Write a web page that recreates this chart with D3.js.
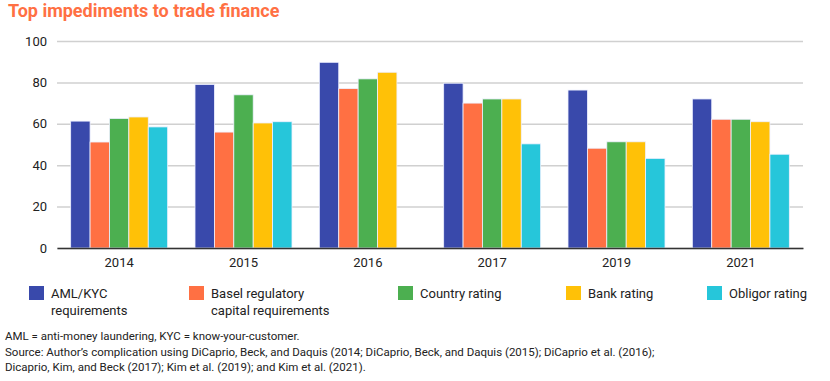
<!DOCTYPE html>
<html><head><meta charset="utf-8">
<script src="https://cdn.jsdelivr.net/npm/d3@7"></script>
<style>body{margin:0;background:#fff;} text{font-family:Roboto, "Noto Sans", sans-serif;}</style>
</head><body>
<svg id="c" width="830" height="381"></svg>
<script>
const categories = ["2014","2015","2016","2017","2019","2021"];
const seriesNames = ["AML/KYC requirements","Basel regulatory capital requirements","Country rating","Bank rating","Obligor rating"];
const amlKyc   = [61.3, 79, 89.7, 79.6, 76.3, 72];
const basel    = [51.2, 56, 77, 70, 48.2, 62.2];
const country  = [62.6, 74, 81.7, 72, 51.3, 62.2];
const bank     = [63.3, 60.4, 84.9, 72, 51.3, 61];
const obligor  = [58.5, 61, null, 50.3, 43.3, 45.3];
const yTicks = [0,20,40,60,80,100];
const colors = ["#3949AB","#FF7043","#4CAF50","#FFC107","#26C6DA"];
const legendLines = [["AML/KYC","requirements"],["Basel regulatory","capital requirements"],["Country rating"],["Bank rating"],["Obligor rating"]];
const notes = ["AML = anti-money laundering, KYC = know-your-customer.",
"Source: Author\u2019s complication using DiCaprio, Beck, and Daquis (2014; DiCaprio, Beck, and Daquis (2015); DiCaprio et al. (2016);",
"Dicaprio, Kim, and Beck (2017); Kim et al. (2019); and Kim et al. (2021)."];
const series = [amlKyc, basel, country, bank, obligor];

const svg = d3.select("#c");
const L = 57, R = 803, T = 41, B = 248;
svg.append("text").attr("x",8).attr("y",17).attr("fill","#FF7043")
  .attr("font-size",18).attr("font-weight",700).text("Top impediments to trade finance");

const x0 = d3.scaleBand().domain(categories).range([L,R]).paddingInner(0.22).paddingOuter(0.11);
const x1 = d3.scaleBand().domain(d3.range(5)).range([0,x0.bandwidth()]);
const y = d3.scaleLinear().domain([0,100]).range([B,T]);

const gy = svg.append("g").attr("transform",`translate(${L},0)`)
  .call(d3.axisLeft(y).tickValues(yTicks).tickSize(-(R-L)).tickPadding(10));
gy.select(".domain").remove();
gy.selectAll(".tick line").attr("stroke","#d0d0d0").attr("stroke-width",1.5);
gy.selectAll(".tick text").attr("font-size",13).attr("fill","#222");

const groups = svg.append("g").selectAll("g").data(categories).join("g")
  .attr("transform",d=>`translate(${x0(d)},0)`);
groups.selectAll("rect").data((d,i)=>series.map((s,k)=>({k,v:s[i]})).filter(e=>e.v!=null))
  .join("rect")
  .attr("x",e=>x1(e.k)).attr("width",x1.bandwidth())
  .attr("y",e=>y(e.v)).attr("height",e=>B-y(e.v))
  .attr("fill",e=>colors[e.k]).attr("stroke","#eef0ff").attr("stroke-width",0.8);

const gx = svg.append("g").attr("transform",`translate(0,${B})`)
  .call(d3.axisBottom(x0).tickSize(0).tickPadding(10));
gx.select(".domain").attr("stroke","#333").attr("stroke-width",1.5);
gx.selectAll(".tick text").attr("font-size",13).attr("fill","#222");

const legX = [29,189,398,566,707];
const lg = svg.append("g").selectAll("g").data(legendLines).join("g")
  .attr("transform",(d,i)=>`translate(${legX[i]},286)`);
lg.append("rect").attr("width",15).attr("height",14).attr("fill",(d,i)=>colors[i]);
lg.append("text").attr("x",22).attr("y",12).attr("font-size",13).attr("fill","#222")
  .selectAll("tspan").data(d=>d).join("tspan").attr("x",22).attr("dy",(d,j)=>j?17:0).text(d=>d);

svg.append("g").selectAll("text").data(notes).join("text")
  .attr("x",5).attr("y",(d,i)=>340+i*15.5).attr("font-size",11.5).attr("fill","#222").text(d=>d);
</script>
</body></html>
